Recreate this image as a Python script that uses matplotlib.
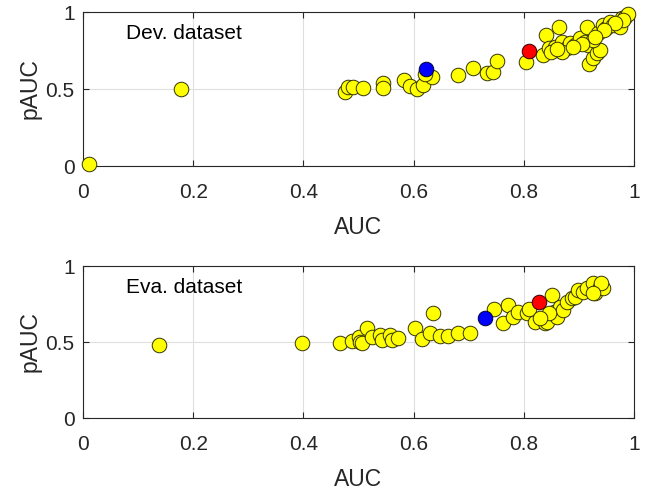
import matplotlib
matplotlib.use("Agg")
import matplotlib.pyplot as plt

plt.rcParams['font.family'] = ['Liberation Sans', 'DejaVu Sans']

# Development dataset (AUC, pAUC)
dev_auc = [0.01, 0.178, 0.475, 0.481, 0.49, 0.508, 0.544, 0.544, 0.583, 0.593,
           0.606, 0.617, 0.633, 0.621, 0.681, 0.708, 0.733, 0.744, 0.751, 0.804,
           0.835, 0.841, 0.846, 0.857, 0.864, 0.869, 0.878, 0.884, 0.893, 0.902,
           0.911, 0.914, 0.917, 0.918, 0.926, 0.932, 0.938, 0.935, 0.944, 0.95,
           0.956, 0.962, 0.975, 0.978, 0.984, 0.99, 0.98, 0.925, 0.905, 0.87,
           0.85, 0.965, 0.945, 0.93, 0.89, 0.86]
dev_pauc = [0.01, 0.50, 0.48, 0.51, 0.513, 0.506, 0.537, 0.505, 0.558, 0.52,
            0.50, 0.526, 0.58, 0.60, 0.59, 0.636, 0.606, 0.612, 0.68, 0.673,
            0.72, 0.85, 0.764, 0.775, 0.905, 0.807, 0.764, 0.797, 0.786, 0.83,
            0.807, 0.905, 0.786, 0.66, 0.70, 0.732, 0.753, 0.862, 0.916, 0.894,
            0.937, 0.916, 0.905, 0.959, 0.97, 0.985, 0.948, 0.82, 0.79, 0.74,
            0.74, 0.93, 0.88, 0.84, 0.77, 0.76]
dev_red = (0.809, 0.747)
dev_blue = (0.622, 0.628)

# Evaluation dataset (AUC, pAUC)
eva_auc = [0.138, 0.397, 0.466, 0.488, 0.50, 0.503, 0.506, 0.515, 0.524, 0.539,
           0.542, 0.557, 0.56, 0.572, 0.603, 0.615, 0.63, 0.636, 0.648, 0.663,
           0.681, 0.702, 0.745, 0.763, 0.772, 0.781, 0.789, 0.805, 0.82, 0.836,
           0.838, 0.842, 0.851, 0.854, 0.86, 0.866, 0.872, 0.878, 0.887, 0.893,
           0.899, 0.908, 0.914, 0.926, 0.929, 0.938, 0.944, 0.941, 0.926, 0.81,
           0.845, 0.83]
eva_pauc = [0.48, 0.491, 0.495, 0.509, 0.535, 0.502, 0.491, 0.59, 0.535, 0.546,
            0.513, 0.546, 0.513, 0.524, 0.59, 0.518, 0.557, 0.693, 0.539, 0.539,
            0.557, 0.557, 0.715, 0.627, 0.743, 0.667, 0.70, 0.693, 0.634, 0.645,
            0.623, 0.634, 0.809, 0.70, 0.667, 0.732, 0.711, 0.765, 0.787, 0.798,
            0.842, 0.831, 0.853, 0.886, 0.82, 0.864, 0.853, 0.886, 0.82, 0.72,
            0.69, 0.66]
eva_red = (0.828, 0.761)
eva_blue = (0.73, 0.656)

ticks_x = [0, 0.2, 0.4, 0.6, 0.8, 1]
ticks_y = [0, 0.5, 1]
tick_x_labels = ['0', '0.2', '0.4', '0.6', '0.8', '1']
tick_y_labels = ['0', '0.5', '1']

fig = plt.figure(figsize=(6.49, 4.90), dpi=100)
ax1 = fig.add_axes([0.1279, 0.6612, 0.849, 0.3143])
ax2 = fig.add_axes([0.1279, 0.1469, 0.849, 0.3102])

edge = '#262626'
for ax, xs, ys, red, blue, title in [
        (ax1, dev_auc, dev_pauc, dev_red, dev_blue, 'Dev. dataset'),
        (ax2, eva_auc, eva_pauc, eva_red, eva_blue, 'Eva. dataset')]:
    ax.scatter(xs, ys, s=110, c='#FFFF00', edgecolors='#333300', linewidths=0.7,
               zorder=3, clip_on=False)
    ax.scatter([red[0]], [red[1]], s=110, c='#FF0000', edgecolors='#330000',
               linewidths=0.7, zorder=4, clip_on=False)
    ax.scatter([blue[0]], [blue[1]], s=110, c='#0000FF', edgecolors='#000033',
               linewidths=0.7, zorder=4, clip_on=False)
    ax.set_xlim(0, 1)
    ax.set_ylim(0, 1)
    ax.set_xticks(ticks_x)
    ax.set_xticklabels(tick_x_labels)
    ax.set_yticks(ticks_y)
    ax.set_yticklabels(tick_y_labels)
    ax.grid(True, color='#dfdfdf', linewidth=0.8, zorder=0)
    ax.set_axisbelow(True)
    ax.tick_params(direction='in', top=True, right=True, length=4, width=0.8,
                   colors=edge, labelsize=15, labelcolor=edge)
    ax.tick_params(axis='x', pad=12)
    ax.tick_params(axis='y', pad=6)
    for sp in ax.spines.values():
        sp.set_color(edge)
        sp.set_linewidth(0.8)
        sp.set_zorder(2)
    ax.set_xlabel('AUC', fontsize=16.5, color=edge, labelpad=10)
    ax.set_ylabel('pAUC', fontsize=16.5, color=edge, labelpad=3)
    ax.text(0.078, 0.86, title, fontsize=15, color='black', va='center', ha='left')

fig.savefig('out.png', dpi=100)
